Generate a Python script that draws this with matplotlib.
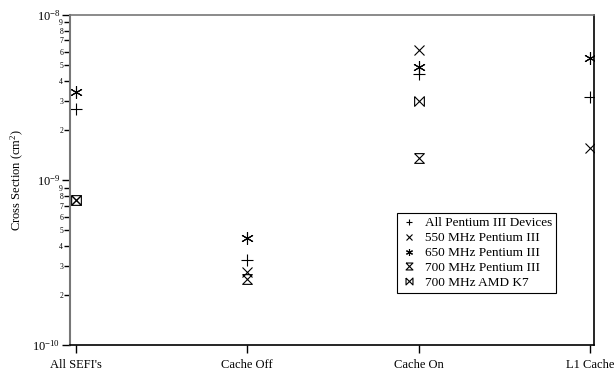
import numpy as np
import matplotlib.pyplot as plt
from matplotlib.ticker import FixedLocator, FuncFormatter

plt.rcParams['font.family'] = ['Liberation Serif', 'DejaVu Serif']
plt.rcParams['mathtext.fontset'] = 'custom'
plt.rcParams['mathtext.rm'] = 'Liberation Serif'
plt.rcParams['mathtext.it'] = 'Liberation Serif:italic'

categories = ["All SEFI's", "Cache Off", "Cache On", "L1 Cache"]

# values per series (None = not measured)
all_p3 = [2.69e-9, 3.27e-10, 4.38e-9, 3.2e-9]
p3_550 = [None, 2.78e-10, 6.14e-9, 1.56e-9]
p3_650 = [3.43e-9, 4.43e-10, 4.86e-9, 5.47e-9]
p3_700 = [7.57e-10, 2.50e-10, 1.35e-9, None]
amd_k7 = [7.57e-10, None, 2.99e-9, None]

labels = ["All Pentium III Devices", "550 MHz Pentium III", "650 MHz Pentium III",
          "700 MHz Pentium III", "700 MHz AMD K7"]

hourglass = [(-1, 1), (1, 1), (-1, -1), (1, -1), (-1, 1)]
bowtie = [(-1, 1), (-1, -1), (1, 1), (1, -1), (-1, 1)]
markers = ['+', 'x', (6, 2, 0), hourglass, bowtie]
sizes = [8, 7, 9, 7, 7]

fig = plt.figure(figsize=(6.16, 3.73), dpi=100)
ax = fig.add_axes([0.1136, 0.075, 0.8504, 0.885])

series = [all_p3, p3_550, p3_650, p3_700, amd_k7]
for vals, m, s, lab in zip(series, markers, sizes, labels):
    xs = [i for i, v in enumerate(vals) if v is not None]
    ys = [v for v in vals if v is not None]
    ax.plot(xs, ys, linestyle='none', marker=m, markersize=s, color='black',
            markerfacecolor='none', markeredgecolor='black', markeredgewidth=0.8,
            label=lab)

ax.set_yscale('log')
ax.set_ylim(1e-10, 1e-8)
ax.set_xlim(-0.035, 3.023)
ax.set_xticks(range(len(categories)))
ax.set_xticklabels(categories, fontsize=9)

major = [1e-10, 1e-9, 1e-8]
minor = [m * 10.0 ** e for e in (-10, -9) for m in range(2, 10)]
ax.yaxis.set_major_locator(FixedLocator(major))
ax.yaxis.set_minor_locator(FixedLocator(minor))


def major_fmt(v, pos):
    e = int(round(np.log10(v)))
    return r'10$^{\mathrm{%s}}$' % str(e)


def minor_fmt(v, pos):
    e = np.floor(np.log10(v) + 1e-9)
    m = int(round(v / 10 ** e))
    return str(m)


ax.yaxis.set_major_formatter(FuncFormatter(major_fmt))
ax.yaxis.set_minor_formatter(FuncFormatter(minor_fmt))
ax.tick_params(axis='y', which='major', labelsize=9, length=6, width=1, pad=1)
ax.tick_params(axis='y', which='minor', labelsize=5.5, length=4, width=1, pad=1)
ax.tick_params(axis='x', which='major', length=6, width=1, pad=4)
ax.tick_params(axis='x', which='minor', bottom=False)

ax.spines['left'].set_color('#777777')
ax.spines['left'].set_linewidth(1.5)
ax.spines['top'].set_color('#777777')
ax.spines['top'].set_linewidth(1.2)
ax.spines['bottom'].set_color('black')
ax.spines['right'].set_color('black')
ax.spines['bottom'].set_linewidth(1.2)
ax.spines['right'].set_linewidth(1.2)

ax.set_ylabel('Cross Section (cm$^2$)', fontsize=9)
ax.yaxis.set_label_coords(-0.084, 0.5)

leg = ax.legend(loc='lower left', bbox_to_anchor=(0.624, 0.158), fontsize=9.5,
                frameon=True, fancybox=False, edgecolor='black', framealpha=1,
                handlelength=1.2, handletextpad=0.6, borderpad=0.3,
                labelspacing=0.2, borderaxespad=0)
leg.get_frame().set_linewidth(0.8)
for h in leg.legend_handles:
    h.set_markersize(5)

fig.savefig('out.png', dpi=100)
